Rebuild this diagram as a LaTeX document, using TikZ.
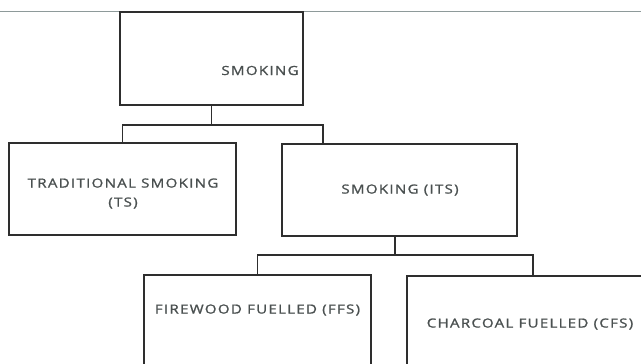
\documentclass[tikz,border=0pt]{standalone}
\usepackage{fontspec}
\setmainfont{Open Sans}[LetterSpace=10,FakeStretch=1.2,FakeBold=1.2]
\usetikzlibrary{calc}
\definecolor{txt}{HTML}{4A5050}
\definecolor{edge}{HTML}{2E2E2E}
\definecolor{rule}{HTML}{8E9A9A}
\begin{document}
\begin{tikzpicture}[x=1pt,y=-1pt,
  box/.style={draw=edge,line width=1.2pt,inner sep=0pt},
  lbl/.style={text=txt,font=\fontsize{12.6}{19}\selectfont,align=center},
  conn/.style={draw=edge,line width=1.2pt}]
\clip (0,0) rectangle (641,364);
\fill[white] (0,0) rectangle (641,364);
\coordinate (r1) at (0,11);
\coordinate (r2) at (641,11);
\draw[rule,line width=1pt] (r1) -- (r2);
\node[box,minimum width=183pt,minimum height=93pt] (top) at (211.5,58.5) {};
\node[lbl] at (260,70.5) {SMOKING};
\node[box,minimum width=227pt,minimum height=92pt] (ts) at (122.5,189) {};
\node[lbl] at (123,193.5) {TRADITIONAL SMOKING\\(TS)};
\node[box,minimum width=235pt,minimum height=92pt] (its) at (399.5,190) {};
\node[lbl] at (400,190) {SMOKING (ITS)};
\node[box,minimum width=227pt,minimum height=100pt] (ffs) at (257.5,325) {};
\node[lbl] at (257.5,310) {FIREWOOD FUELLED (FFS)};
\node[box,minimum width=252pt,minimum height=100pt] (cfs) at (533,326) {};
\node[lbl] at (530,324) {CHARCOAL FUELLED (CFS)};
\coordinate (j1) at (211.5,125);
\coordinate (a2) at (323,0);
\draw[conn] (top.south) -- (j1);
\draw[conn] (j1) -| (ts.north);
\draw[conn] (j1) -| (its.north -| a2);
\coordinate (b1) at (395,0);
\coordinate (j2) at (395,255);
\draw[conn] (its.south -| b1) -- (j2);
\draw[conn] (j2) -| (ffs.north);
\draw[conn] (j2) -| (cfs.north);
\end{tikzpicture}
\end{document}
